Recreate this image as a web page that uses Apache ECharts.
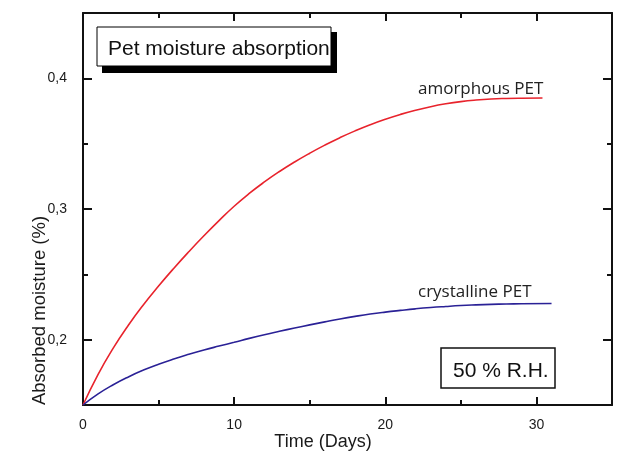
<!DOCTYPE html>
<html><head><meta charset="utf-8">
<script src="https://cdn.jsdelivr.net/npm/echarts@6/dist/echarts.min.js"></script>
<style>html,body{margin:0;padding:0;background:#fff}#c{width:640px;height:454px}</style>
</head><body><div id="c"></div>
<script>
// Data
const amorphousDays = [0, 1, 2, 3, 4, 5, 6, 7, 8, 9, 10, 11, 12, 13, 14, 15, 16, 17, 18, 19, 20, 21, 22, 23, 24, 25, 26, 27, 28, 29, 30.4];
const amorphous     = [0.150, 0.1735, 0.1935, 0.211, 0.2267, 0.241, 0.2545, 0.2673, 0.2795, 0.2911, 0.3021, 0.3119, 0.3207, 0.3287, 0.336, 0.3427, 0.3489, 0.3546, 0.3598, 0.3645, 0.3687, 0.3724, 0.3756, 0.3783, 0.3805, 0.3822, 0.3834, 0.3842, 0.3846, 0.3848, 0.3849];
const crystallineDays = [0, 1, 2, 3, 4, 5, 6, 7, 8, 9, 10, 11, 12, 13, 14, 15, 16, 17, 18, 19, 20, 21, 22, 23, 24, 25, 26, 27, 28, 29, 31];
const crystalline     = [0.150, 0.1585, 0.1655, 0.1715, 0.1767, 0.1812, 0.1852, 0.1888, 0.1921, 0.1951, 0.198, 0.201, 0.2038, 0.2064, 0.2089, 0.2113, 0.2136, 0.2158, 0.2178, 0.2196, 0.2211, 0.2224, 0.2236, 0.2246, 0.2254, 0.2261, 0.2266, 0.227, 0.2273, 0.2275, 0.2277];
const xMajorTicks = [0, 10, 20, 30];
const xMinorTicks = [5, 15, 25];
const yMajorTicks = [0.2, 0.3, 0.4];
const yMinorTicks = [0.25, 0.35];
const seriesNames = ['amorphous PET', 'crystalline PET'];
const titleText = 'Pet moisture absorption';
const conditionText = '50 % R.H.';
const xTitle = 'Time (Days)';
const yTitle = 'Absorbed moisture (%)';

const AX = '#111';
const FONT = '"Liberation Sans", Arial, sans-serif';

function xAx(pos, ticks, len, main, labels) {
  return {
    type: 'value', position: pos, min: 0, max: 35,
    axisLine: { show: main, onZero: false, lineStyle: { color: AX, width: 2 } },
    axisTick: { show: true, inside: true, length: len, customValues: ticks, lineStyle: { color: AX, width: 2 } },
    axisLabel: labels ? { show: true, customValues: xMajorTicks, margin: 13, color: '#1a1a1a', fontSize: 14, fontFamily: FONT } : { show: false },
    splitLine: { show: false }
  };
}
function yAx(pos, ticks, len, main, labels) {
  return {
    type: 'value', position: pos, min: 0.15, max: 0.45,
    axisLine: { show: main, onZero: false, lineStyle: { color: AX, width: 2 } },
    axisTick: { show: true, inside: true, length: len, customValues: ticks, lineStyle: { color: AX, width: 2 } },
    axisLabel: labels ? { show: true, customValues: yMajorTicks, margin: 16, color: '#1a1a1a', fontSize: 14, fontFamily: FONT,
      formatter: v => (Math.round(v * 10) / 10).toFixed(1).replace('.', ',') } : { show: false },
    splitLine: { show: false }
  };
}

const chart = echarts.init(document.getElementById('c'), null, { renderer: 'canvas' });
chart.setOption({
  animation: false,
  backgroundColor: '#fff',
  grid: { left: 83, right: 28, top: 13, bottom: 49, outerBoundsMode: 'none', containLabel: false },
  xAxis: [
    Object.assign(xAx('bottom', xMajorTicks, 8, true, true), {
      name: xTitle, nameLocation: 'middle', nameGap: 28, nameMoveOverlap: false,
      nameTextStyle: { fontSize: 18, fontFamily: FONT, color: '#1a1a1a', padding: [0, 49, 0, 0] }
    }),
    xAx('bottom', xMinorTicks, 5, false, false),
    xAx('top', xMajorTicks, 8, true, false),
    xAx('top', xMinorTicks, 5, false, false)
  ],
  yAxis: [
    Object.assign(yAx('left', yMajorTicks, 9, true, true), {
      name: yTitle, nameLocation: 'middle', nameGap: 34, nameMoveOverlap: false,
      nameTextStyle: { fontSize: 18.5, fontFamily: FONT, color: '#1a1a1a', padding: [0, 203, 0, 0] }
    }),
    yAx('left', yMinorTicks, 5, false, false),
    yAx('right', yMajorTicks, 9, true, false),
    yAx('right', yMinorTicks, 5, false, false)
  ],
  series: [
    { name: seriesNames[0], type: 'line', smooth: 0.5, symbol: 'none', xAxisIndex: 0, yAxisIndex: 0,
      lineStyle: { color: '#e8232c', width: 1.6 },
      data: amorphousDays.map((d, i) => [d, amorphous[i]]) },
    { name: seriesNames[1], type: 'line', smooth: 0.5, symbol: 'none', xAxisIndex: 0, yAxisIndex: 0,
      lineStyle: { color: '#2a2196', width: 1.6 },
      data: crystallineDays.map((d, i) => [d, crystalline[i]]) }
  ],
  graphic: [
    { type: 'rect', shape: { x: 102, y: 32, width: 235, height: 41 }, style: { fill: '#000' }, z: 10 },
    { type: 'rect', shape: { x: 97, y: 27, width: 234, height: 39 }, style: { fill: '#fff', stroke: '#000', lineWidth: 1 }, z: 11 },
    { type: 'text', x: 108, y: 49, z: 12, style: { text: titleText, font: '21px ' + FONT, fill: '#111', verticalAlign: 'middle' } },
    { type: 'rect', shape: { x: 441, y: 348, width: 114, height: 40 }, style: { fill: '#fff', stroke: '#111', lineWidth: 1.5 }, z: 10 },
    { type: 'text', x: 453, y: 371, z: 12, style: { text: conditionText, font: '21px ' + FONT, fill: '#111', verticalAlign: 'middle' } },
    { type: 'text', x: 418, y: 89, z: 12, style: { text: seriesNames[0], font: '17px "Open Sans", sans-serif', fill: '#222', verticalAlign: 'middle' } },
    { type: 'text', x: 418, y: 292, z: 12, style: { text: seriesNames[1], font: '17px "Open Sans", sans-serif', fill: '#222', verticalAlign: 'middle' } }
  ]
});
</script>
</body></html>
